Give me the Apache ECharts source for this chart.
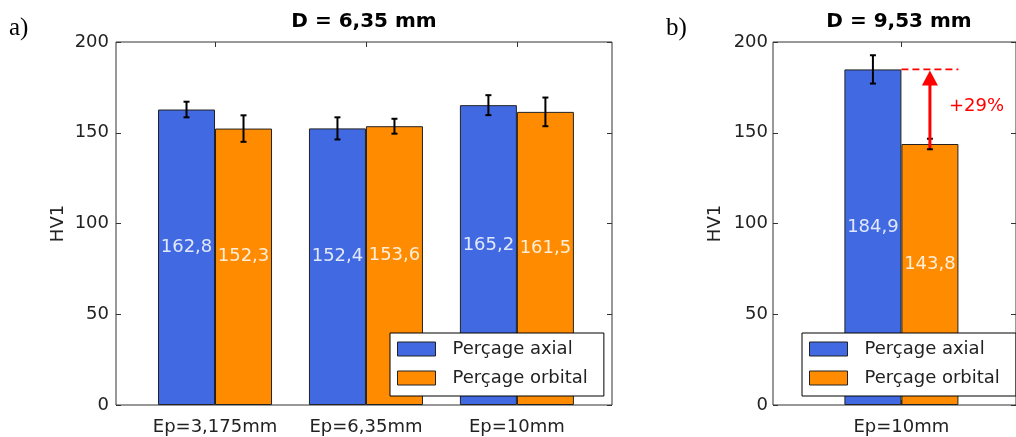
<!DOCTYPE html>
<html>
<head>
<meta charset="utf-8">
<script src="https://cdn.jsdelivr.net/npm/echarts@6/dist/echarts.min.js"></script>
<style>html,body{margin:0;padding:0;background:#fff}#c{width:1016px;height:437px}</style>
</head>
<body>
<div id="c"></div>
<script>
// ---- data ----
const categoriesA = ['Ep=3,175mm', 'Ep=6,35mm', 'Ep=10mm'];
const axialA = [162.8, 152.4, 165.2];
const orbitalA = [152.3, 153.6, 161.5];
const axialErrA = [4.3, 6.1, 5.5];
const orbitalErrA = [7.3, 4.1, 7.9];

const categoriesB = ['Ep=10mm'];
const axialB = [184.9];
const orbitalB = [143.8];
const axialErrB = [7.8];
const orbitalErrB = [2.9];

const seriesNames = ['Perçage axial', 'Perçage orbital'];
const titles = ['D = 6,35 mm', 'D = 9,53 mm'];
const panelLabels = ['a)', 'b)'];
const yAxisName = 'HV1';

// ---- style ----
const FONT = '"DejaVu Sans", "Noto Sans", sans-serif';
const BLUE = '#4169E1', ORANGE = '#FF8C00';
const BAR_W = 57;
const fmt = v => v.toFixed(1).replace('.', ',');

const chart = echarts.init(document.getElementById('c'), null, {renderer: 'canvas'});

function xAxes(min, max, cats, gridIndex) {
  const ticks = cats.map((_, i) => i);
  return [
    {
      type: 'value', gridIndex, position: 'bottom', min, max,
      axisLine: {show: false, onZero: false}, splitLine: {show: false},
      axisTick: {show: true, inside: true, length: 5, customValues: ticks, lineStyle: {color: '#333'}},
      axisLabel: {show: true, customValues: ticks, margin: 13, fontFamily: FONT, fontSize: 18, color: '#222',
        formatter: v => cats[Math.round(v)]}
    },
    {
      type: 'value', gridIndex, position: 'top', min, max,
      axisLine: {show: false, onZero: false}, splitLine: {show: false},
      axisTick: {show: true, inside: true, length: 5, customValues: ticks, lineStyle: {color: '#333'}},
      axisLabel: {show: false}
    }
  ];
}
function yAxes(gridIndex, nameGap, labelMargin) {
  return [
    {
      type: 'value', gridIndex, position: 'left', min: 0, max: 200, interval: 50,
      name: yAxisName, nameLocation: 'middle', nameGap, nameRotate: 90,
      nameTextStyle: {fontFamily: FONT, fontSize: 18, color: '#222'},
      axisLine: {show: false, onZero: false}, splitLine: {show: false},
      axisTick: {show: true, inside: true, length: 5, lineStyle: {color: '#333'}},
      axisLabel: {fontFamily: FONT, fontSize: 18, color: '#222', margin: labelMargin}
    },
    {
      type: 'value', gridIndex, position: 'right', min: 0, max: 200, interval: 50,
      axisLine: {show: false, onZero: false}, splitLine: {show: false},
      axisTick: {show: true, inside: true, length: 5, lineStyle: {color: '#333'}},
      axisLabel: {show: false}
    }
  ];
}

function barSeries(name, color, vals, xi, yi) {
  return {
    type: 'bar', name, xAxisIndex: xi, yAxisIndex: yi,
    data: vals.map((v, i) => [i, v]),
    barWidth: BAR_W, barGap: '0%',
    itemStyle: {color, borderColor: '#222', borderWidth: 1},
    label: {
      show: true, position: 'inside', offset: [0, -10],
      fontFamily: FONT, fontSize: 18, color: 'rgba(255,255,255,0.85)',
      formatter: p => fmt(p.value[1])
    },
    emphasis: {disabled: true},
    z: 2
  };
}

function errSeries(vals, errs, off, xi, yi) {
  return {
    type: 'custom', xAxisIndex: xi, yAxisIndex: yi, z: 6, silent: true,
    data: vals.map((v, i) => [i, v, errs[i]]),
    renderItem: (params, api) => {
      const x = api.value(0), y = api.value(1), e = api.value(2);
      const t = api.coord([x, y + e]), b = api.coord([x, y - e]);
      const cx = t[0] + off;
      const st = {stroke: '#000', lineWidth: 2};
      return {type: 'group', children: [
        {type: 'line', shape: {x1: cx, y1: t[1], x2: cx, y2: b[1]}, style: st},
        {type: 'line', shape: {x1: cx - 3, y1: t[1], x2: cx + 3, y2: t[1]}, style: st},
        {type: 'line', shape: {x1: cx - 3, y1: b[1], x2: cx + 3, y2: b[1]}, style: st}
      ]};
    }
  };
}

const annotation = {
  type: 'custom', xAxisIndex: 2, yAxisIndex: 2, z: 7, silent: true,
  data: axialB.map((v, i) => [i, v, orbitalB[i]]),
  renderItem: (params, api) => {
    const x = api.value(0), hi = api.value(1), lo = api.value(2);
    const pHi = api.coord([x, hi]), pLo = api.coord([x, lo]);
    const ax = pHi[0] + BAR_W / 2;
    const pct = '+' + Math.round((hi / lo - 1) * 100) + '%';
    const red = '#ff0000';
    return {type: 'group', children: [
      {type: 'line', shape: {x1: pHi[0], y1: pHi[1], x2: pHi[0] + BAR_W, y2: pHi[1]},
        style: {stroke: red, lineWidth: 1.6, lineDash: [7, 4]}},
      {type: 'line', shape: {x1: ax, y1: pLo[1] + 4, x2: ax, y2: pHi[1] + 14},
        style: {stroke: red, lineWidth: 3}},
      {type: 'polygon', shape: {points: [[ax - 8, pHi[1] + 16], [ax + 8, pHi[1] + 16], [ax, pHi[1] + 1]]},
        style: {fill: red}},
      {type: 'text', x: ax + 19, y: (pHi[1] + pLo[1]) / 2,
        style: {text: pct, fill: red, font: '18px ' + FONT, align: 'left', verticalAlign: 'middle'}}
    ]};
  }
};

function legendAt(left, top) {
  return {
    left, top, orient: 'vertical', data: seriesNames,
    itemWidth: 38, itemHeight: 14, itemGap: 9,
    padding: [6, 16, 8, 7],
    backgroundColor: '#fff', borderColor: '#000', borderWidth: 1, borderRadius: 0,
    icon: 'rect', selectedMode: false,
    itemStyle: {borderColor: '#222', borderWidth: 1},
    textStyle: {fontFamily: FONT, fontSize: 18, color: '#222', lineHeight: 20, padding: [0, 0, 0, 12]}
  };
}

// right panel: same x scale (151 px per unit) as left panel, group centred at x=902
const option = {
  backgroundColor: '#fff',
  animation: false,
  grid: [
    {left: 116, top: 42, width: 496, height: 363, show: true, borderColor: '#333', borderWidth: 1, backgroundColor: 'transparent'},
    {left: 773, top: 42, width: 244, height: 363, show: true, borderColor: '#333', borderWidth: 1, backgroundColor: 'transparent'}
  ],
  xAxis: [
    ...xAxes(-0.656, 2.63, categoriesA, 0),
    ...xAxes(-0.854, 0.762, categoriesB, 1)
  ],
  yAxis: [
    ...yAxes(0, 49, 7),
    ...yAxes(1, 49, 5)
  ],
  legend: [legendAt(390, 333), legendAt(802, 333)],
  series: [
    barSeries(seriesNames[0], BLUE, axialA, 0, 0),
    barSeries(seriesNames[1], ORANGE, orbitalA, 0, 0),
    errSeries(axialA, axialErrA, -BAR_W / 2, 0, 0),
    errSeries(orbitalA, orbitalErrA, BAR_W / 2, 0, 0),
    barSeries(seriesNames[0], BLUE, axialB, 2, 2),
    barSeries(seriesNames[1], ORANGE, orbitalB, 2, 2),
    errSeries(axialB, axialErrB, -BAR_W / 2, 2, 2),
    errSeries(orbitalB, orbitalErrB, BAR_W / 2, 2, 2),
    annotation
  ],
  graphic: [
    {type: 'text', x: 364, y: 22, style: {text: titles[0], font: 'bold 20px ' + FONT, fill: '#000', align: 'center', verticalAlign: 'middle'}},
    {type: 'text', x: 899, y: 22, style: {text: titles[1], font: 'bold 20px ' + FONT, fill: '#000', align: 'center', verticalAlign: 'middle'}},
    {type: 'text', x: 9, y: 28, style: {text: panelLabels[0], font: '25px "Liberation Serif", serif', fill: '#000', align: 'left', verticalAlign: 'middle'}},
    {type: 'text', x: 666, y: 28, style: {text: panelLabels[1], font: '25px "Liberation Serif", serif', fill: '#000', align: 'left', verticalAlign: 'middle'}}
  ]
};
chart.setOption(option);
</script>
</body>
</html>
